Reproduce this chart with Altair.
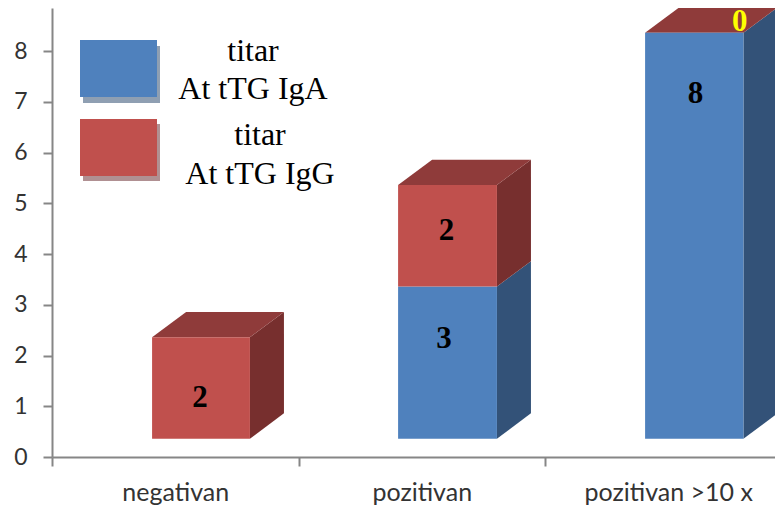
import altair as alt
import pandas as pd

categories = ["negativan", "pozitivan", "pozitivan >10 x"]
iga = [0, 3, 8]
igg = [2, 2, 0]
bar_left = [0.406, 1.404, 2.406]
bar_right = [0.803, 1.805, 2.805]
floor = 0.36
depth_x = 0.138
depth_y = 0.5
label_x = [0.60, 1.60, 1.59, 2.61, 2.79]
label_y = [1.16, 4.46, 2.32, 7.16, 8.58]
label_text = ["2", "2", "3", "8", "0"]
label_color = ["black", "black", "black", "black", "#ffff00"]
legend_lines = [
    ("titar", 201, 53), ("At tTG IgA", 201, 91),
    ("titar", 208, 137), ("At tTG IgG", 208, 176),
]
BLUE, RED = "#4f81bd", "#c0504d"
BLUE_SIDE, RED_SIDE = "#335278", "#772f2e"
RED_TOP = "#8f3b3a"
FONT = "Liberation Serif"

front, side, top = [], [], []
for i in range(3):
    l, r = bar_left[i], bar_right[i]
    a0, a1 = floor, floor + iga[i]
    g1 = a1 + igg[i]
    for name, lo, hi, col, scol in (("a", a0, a1, BLUE, BLUE_SIDE), ("g", a1, g1, RED, RED_SIDE)):
        if hi > lo:
            front.append(dict(x=l, x2=r, y=lo, y2=hi, c=col))
            for k in (0, 1):
                side.append(dict(seg=f"{i}{name}", x=r + k * depth_x, y=lo + k * depth_y,
                                 y2=hi + k * depth_y, c=scol))
    for k in (0, 1):
        top.append(dict(seg=str(i), x=l + k * depth_x, x2=r + k * depth_x, y=g1 + k * depth_y, c=RED_TOP))

xs = alt.Scale(domain=[0, 2.933], nice=False, zero=False)
ys = alt.Scale(domain=[0, 8.85], nice=False, zero=False)
expr_labels = "datum.value % 1 == 0 ? '' : " + str(categories) + "[floor(datum.value)]"
xax = alt.Axis(values=[0, 0.5, 1, 1.5, 2, 2.5], labelExpr=expr_labels, title=None, grid=False,
              domainColor="#868686", domainWidth=2, tickColor="#868686", tickWidth=2, tickSize=9,
              tickOpacity={"condition": {"test": "datum.value % 1 == 0", "value": 1}, "value": 0},
              labelFont="Lato", labelFontSize=25, labelColor="#333333", labelPadding=14)
yax = alt.Axis(values=list(range(9)), format="d", title=None, grid=False,
               domainColor="#868686", domainWidth=2, tickColor="#868686", tickWidth=2, tickSize=9,
               labelFont="Lato", labelFontSize=23, labelColor="#333333", labelPadding=16)
X = alt.X("x:Q", scale=xs, axis=xax)
Y = alt.Y("y:Q", scale=ys, axis=yax, stack=None)
C = alt.Color("c:N", scale=None)

front_l = alt.Chart(pd.DataFrame(front)).mark_rect().encode(X, alt.X2("x2:Q"), Y, alt.Y2("y2:Q"), C)
side_l = alt.Chart(pd.DataFrame(side)).mark_area().encode(
    X, Y, alt.Y2("y2:Q"), C, detail="seg:N")
top_l = alt.Chart(pd.DataFrame(top)).mark_area(orient="horizontal").encode(
    X, alt.X2("x2:Q"), Y, C, detail="seg:N")
labels = alt.Chart(pd.DataFrame(dict(x=label_x, y=label_y, t=label_text, c=label_color))).mark_text(
    font=FONT, fontSize=31, fontWeight="bold", baseline="middle", align="center").encode(
    X, Y, text="t:N", color=C)

layers = [side_l, top_l, front_l, labels]
for color, shadow, yt, yb, sb, st in (
    (BLUE, "#8f9fb2", 32, 89, 95, 38),
    (RED, "#b09092", 111, 168, 173, 116),
):
    one = pd.DataFrame({"k": [0]})
    layers.append(alt.Chart(one).mark_rect(color=shadow).encode(
        x=alt.value(31), x2=alt.value(108), y=alt.value(st), y2=alt.value(sb)))
    layers.append(alt.Chart(one).mark_rect(color=color).encode(
        x=alt.value(28), x2=alt.value(105), y=alt.value(yt), y2=alt.value(yb)))
for text, cx, baseline in legend_lines:
    layers.append(alt.Chart(pd.DataFrame({"t": [text]})).mark_text(
        font=FONT, fontSize=32, align="center", baseline="alphabetic", color="black").encode(
        x=alt.value(cx), y=alt.value(baseline), text="t:N"))

chart = alt.layer(*layers).properties(
    width=723, height=449, background="white",
    autosize=alt.AutoSizeParams(type="none"),
    padding={"left": 44, "top": 0, "right": 0, "bottom": 51},
).configure_view(stroke=None)

chart.save("out.html", embed_options={"renderer": "svg", "actions": False})
